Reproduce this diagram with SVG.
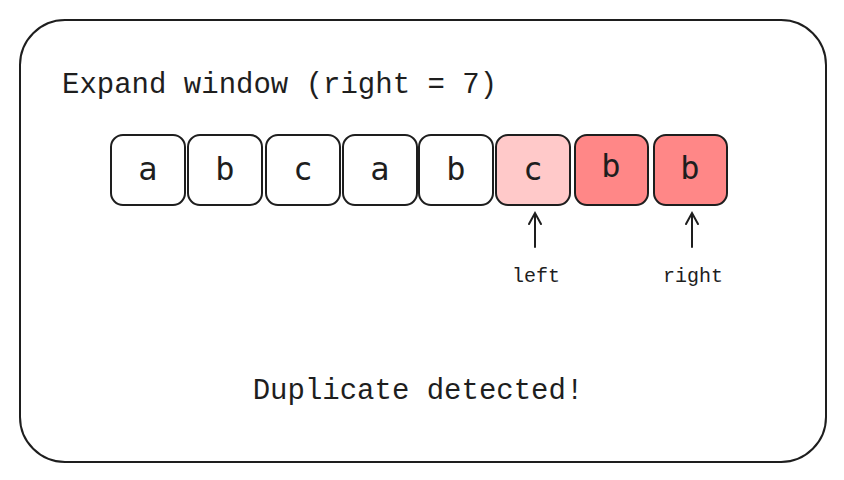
<svg xmlns="http://www.w3.org/2000/svg" width="844" height="480" viewBox="0 0 844 480">
<style>
text{font-family:"Liberation Mono","DejaVu Sans Mono",monospace;fill:#1e1e1e}
.b{stroke:#1e1e1e;stroke-width:2;fill:#fff}
.l{font-family:"DejaVu Sans Mono",monospace;font-size:32px;text-anchor:middle}
.c{stroke:#1e1e1e;stroke-width:2;fill:none;stroke-linecap:round}
</style>
<rect x="0" y="0" width="844" height="480" fill="#fff"/>
<rect x="20" y="20" width="806" height="442" rx="45" fill="none" stroke="#1e1e1e" stroke-width="2"/>
<text x="62" y="93" font-size="29">Expand window (right = 7)</text>
<g id="n0"><rect class="b" x="111" y="135" width="74" height="70" rx="12"/><text class="l" x="148" y="180">a</text></g>
<g id="n1"><rect class="b" x="188" y="135" width="74" height="70" rx="12"/><text class="l" x="225" y="180">b</text></g>
<g id="n2"><rect class="b" x="266" y="135" width="74" height="70" rx="12"/><text class="l" x="303" y="180">c</text></g>
<g id="n3"><rect class="b" x="343" y="135" width="74" height="70" rx="12"/><text class="l" x="380" y="180">a</text></g>
<g id="n4"><rect class="b" x="419" y="135" width="74" height="70" rx="12"/><text class="l" x="456" y="180">b</text></g>
<g id="n5"><rect class="b" x="496" y="135" width="74" height="70" rx="12" style="fill:#ffc9c9"/><text class="l" x="533" y="180">c</text></g>
<g id="n6"><rect class="b" x="575" y="135" width="73" height="70" rx="12" style="fill:#ff8787"/><text class="l" x="611" y="177">b</text></g>
<g id="n7"><rect class="b" x="654" y="135" width="73" height="70" rx="12" style="fill:#ff8787"/><text class="l" x="690" y="179">b</text></g>
<g id="connectors">
<path class="c" d="M535 247 V213 M529 224 L535 213 L541 224"/>
<path class="c" d="M692 247 V213 M686 224 L692 213 L698 224"/>
</g>
<text x="536" y="282" font-size="20" text-anchor="middle">left</text>
<text x="693" y="282" font-size="20" text-anchor="middle">right</text>
<text x="418" y="399" font-size="29" text-anchor="middle">Duplicate detected!</text>
</svg>
